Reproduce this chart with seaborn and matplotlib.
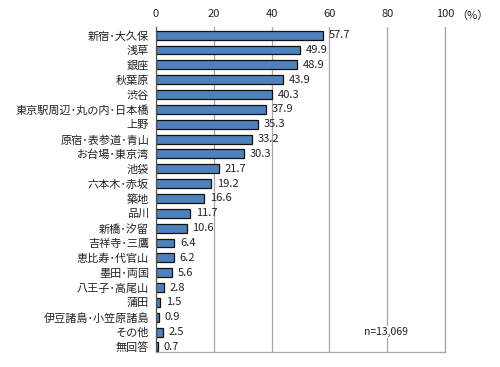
import pandas as pd
import matplotlib.pyplot as plt
import seaborn as sns

# Data
areas = ['新宿･大久保', '浅草', '銀座', '秋葉原', '渋谷', '東京駅周辺･丸の内･日本橋',
         '上野', '原宿･表参道･青山', 'お台場･東京湾', '池袋', '六本木･赤坂', '築地',
         '品川', '新橋･汐留', '吉祥寺･三鷹', '恵比寿･代官山', '墨田･両国', '八王子･高尾山',
         '蒲田', '伊豆諸島･小笠原諸島', 'その他', '無回答']
values = [57.7, 49.9, 48.9, 43.9, 40.3, 37.9, 35.3, 33.2, 30.3, 21.7, 19.2, 16.6,
          11.7, 10.6, 6.4, 6.2, 5.6, 2.8, 1.5, 0.9, 2.5, 0.7]
x_ticks = [0, 20, 40, 60, 80, 100]

df = pd.DataFrame({'area': areas, 'pct': values})

sns.set_theme(style='white')
plt.rcParams['font.family'] = ['Noto Sans CJK JP', 'DejaVu Sans']

fig = plt.figure(figsize=(5, 3.67), dpi=100)
ax = fig.add_axes([0.312, 0.041, 0.578, 0.885])

sns.barplot(data=df, x='pct', y='area', color='#4F81BD', saturation=1,
            edgecolor='#111111', linewidth=0.9, width=0.6, ax=ax)

for i, v in enumerate(values):
    ax.text(v + 2.0, i, f'{v:.1f}', va='center', ha='left', fontsize=8, color='#222222')

ax.set_xlim(0, 100)
ax.set_ylim(len(areas) - 0.66, -0.54)
ax.set_xticks(x_ticks)
ax.xaxis.tick_top()
ax.tick_params(axis='x', length=0, labelsize=8, pad=6, colors='#222222')
ax.tick_params(axis='y', length=0, labelsize=8, pad=5, colors='#222222')
ax.set_xlabel('')
ax.set_ylabel('')
ax.grid(axis='x', color='#A6A6A6', linewidth=0.9)
ax.set_axisbelow(True)

ax.spines['top'].set_visible(False)
ax.spines['left'].set_color('#555555')
ax.spines['right'].set_color('#A6A6A6')
ax.spines['bottom'].set_color('#A6A6A6')
for s in ['left', 'right', 'bottom']:
    ax.spines[s].set_linewidth(0.9)

ax.text(1.04, 1.035, '（%）', transform=ax.transAxes, fontsize=8,
        ha='left', va='center', color='#222222')
ax.text(79.5, 20, 'n=13,069', ha='center', va='center', fontsize=7.5, color='#222222',
        bbox=dict(facecolor='white', edgecolor='none', pad=1))

fig.savefig('out.png', dpi=100)
